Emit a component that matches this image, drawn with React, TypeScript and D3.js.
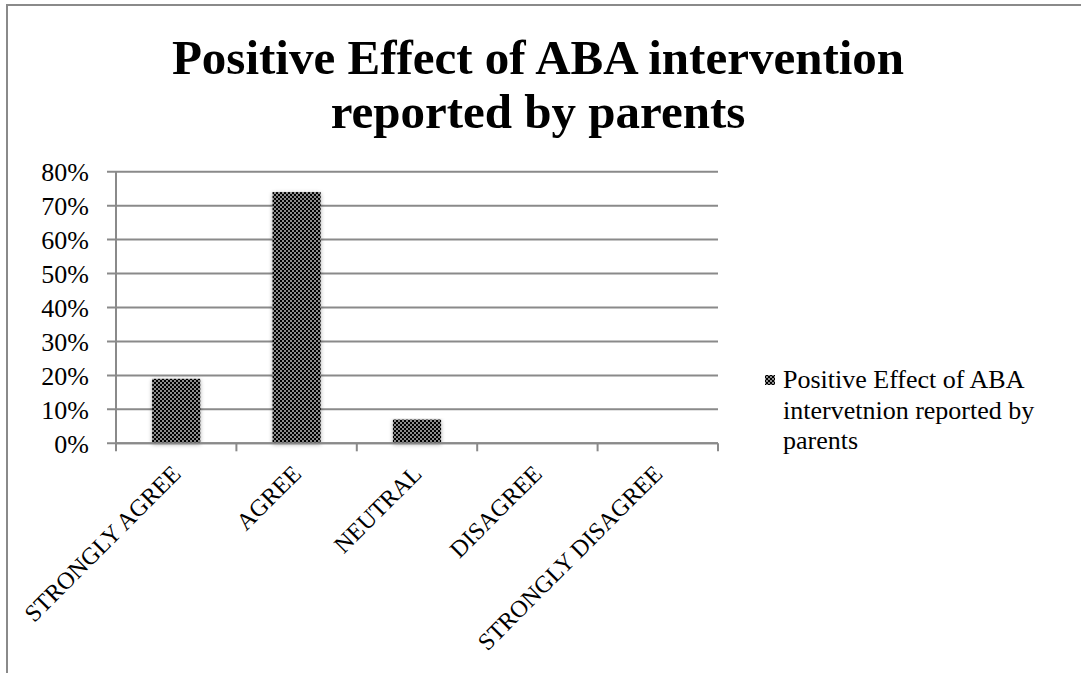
import React from "react";
import * as d3 from "d3";

const categories = ["STRONGLY AGREE", "AGREE", "NEUTRAL", "DISAGREE", "STRONGLY DISAGREE"];
const values = [0.19, 0.74, 0.07, 0, 0];
const yTicks = [0, 0.1, 0.2, 0.3, 0.4, 0.5, 0.6, 0.7, 0.8];
const titleLines = ["Positive Effect of ABA intervention", "reported by parents"];
const legendLines = ["Positive Effect of ABA", "intervetnion reported by", "parents"];

const W = 1081;
const H = 673;
const left = 116;
const right = 718;
const top = 171.7;
const bottom = 443.3;
const grid = "#8a8a8a";
const font = "'Liberation Serif', 'Times New Roman', serif";

export default function App() {
  const x = d3
    .scaleBand<string>()
    .domain(categories)
    .range([left, right])
    .paddingInner(0.6)
    .paddingOuter(0.3);
  const y = d3.scaleLinear().domain([0, 0.8]).range([bottom, top]);
  const step = x.step();
  const gap = (step - x.bandwidth()) / 2;
  const boundaries = categories.map((c) => (x(c) as number) - gap).concat([right]);
  const fmt = d3.format(".0%");

  return (
    <svg
      width={W}
      height={H}
      style={{ position: "absolute", left: 0, top: 0, background: "#fff" }}
      fontFamily={font}
    >
      <defs>
        <pattern id="checker" width={4} height={4} patternUnits="userSpaceOnUse">
          <rect width={4} height={4} fill="#8c8c8c" />
          <rect width={2} height={2} fill="#000" />
          <rect x={2} y={2} width={2} height={2} fill="#000" />
        </pattern>
        <filter id="shadow" x="-30%" y="-10%" width="160%" height="130%">
          <feGaussianBlur in="SourceAlpha" stdDeviation={2} result="b" />
          <feOffset in="b" dx={0} dy={1} result="o" />
          <feComponentTransfer in="o" result="s">
            <feFuncA type="linear" slope={0.35} />
          </feComponentTransfer>
          <feMerge>
            <feMergeNode in="s" />
            <feMergeNode in="SourceGraphic" />
          </feMerge>
        </filter>
      </defs>

      {/* chart frame */}
      <rect x={7} y={5} width={W + 10} height={H + 10} fill="none" stroke={grid} strokeWidth={2} />

      {/* title */}
      {titleLines.map((t, i) => (
        <text
          key={t}
          x={538}
          y={74 + i * 54}
          textAnchor="middle"
          fontSize={49}
          fontWeight="bold"
          fill="#000"
        >
          {t}
        </text>
      ))}

      {/* gridlines and y axis */}
      {yTicks.map((t) => (
        <g key={t}>
          <line x1={left - 9} x2={right} y1={y(t)} y2={y(t)} stroke={grid} strokeWidth={2} />
          <text x={89} y={y(t) + 9.5} textAnchor="end" fontSize={26} fill="#000">
            {fmt(t)}
          </text>
        </g>
      ))}
      <line x1={left} x2={left} y1={top} y2={bottom + 1} stroke={grid} strokeWidth={2} />

      {/* bars */}
      {categories.map((c, i) =>
        values[i] > 0 ? (
          <rect
            key={c}
            x={x(c)}
            y={y(values[i])}
            width={x.bandwidth()}
            height={bottom - y(values[i])}
            fill="url(#checker)"
            filter="url(#shadow)"
          />
        ) : null
      )}

      {/* x axis */}
      <line x1={left} x2={right} y1={bottom} y2={bottom} stroke={grid} strokeWidth={2} />
      {boundaries.map((bx, i) => (
        <line key={i} x1={bx} x2={bx} y1={bottom} y2={bottom + 8} stroke={grid} strokeWidth={2} />
      ))}
      {categories.map((c) => {
        const cx = (x(c) as number) + x.bandwidth() / 2 + 6;
        const cy = bottom + 32;
        return (
          <text
            key={c}
            x={cx}
            y={cy}
            textAnchor="end"
            fontSize={24}
            fill="#000"
            transform={`rotate(-45 ${cx} ${cy})`}
          >
            {c}
          </text>
        );
      })}

      {/* legend */}
      <rect x={765} y={375} width={10} height={10} fill="url(#checker)" />
      {legendLines.map((t, i) => (
        <text key={t} x={783} y={388 + i * 30.5} fontSize={26} fill="#000">
          {t}
        </text>
      ))}
    </svg>
  );
}
